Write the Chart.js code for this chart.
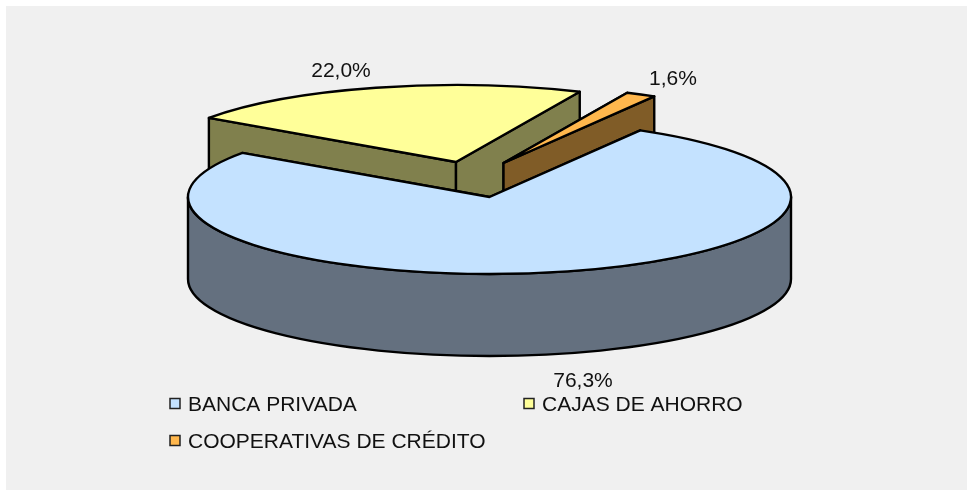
<!DOCTYPE html>
<html><head><meta charset="utf-8">
<style>html,body{margin:0;padding:0;background:#fff}canvas{display:block}</style>
<script src="https://cdn.jsdelivr.net/npm/chart.js@4"></script></head>
<body><canvas id="c" width="970" height="491"></canvas>
<script>
const categories = ["BANCA PRIVADA", "CAJAS DE AHORRO", "COOPERATIVAS DE CRÉDITO"];
const shares = [76.3, 22.0, 1.6];
const topColors = ["#C4E2FF", "#FFFF99", "#FFB74D"];
const sideColors = ["#64707F", "#80804D", "#805C27"];

const RX = 301.5, RY = 77, DEPTH = 82;
const centers = [[489.5, 197], [456, 162], [503.5, 163]];
const paintOrder = [1, 2, 0];
const labelAt = [[583, 381], [341, 71], [673, 79]];
const legendAt = [[175, 404], [529, 404], [175, 441]];
const FONT = '21px "Liberation Sans", Arial, sans-serif';
const INK = "#111";

const pie3d = {
  id: "pie3d",
  beforeDraw(chart) {
    const { ctx, width, height } = chart;
    ctx.save();
    ctx.fillStyle = "#fff"; ctx.fillRect(0, 0, width, height);
    ctx.fillStyle = "#F0F0F0"; ctx.fillRect(6, 6, width - 9, height - 7);
    ctx.restore();
  },
  beforeDatasetsDraw(chart) {
    const { ctx } = chart;
    const arcs = chart.getDatasetMeta(0).data;
    paintOrder.forEach(i => {
      const a = arcs[i];
      const [cx, cy] = centers[i];
      const sx = RX / a.outerRadius, sy = RY / a.outerRadius;
      const pt = t => [cx + RX * Math.cos(t), cy + RY * Math.sin(t)];
      ctx.save();
      ctx.lineWidth = 2.4; ctx.lineJoin = "round"; ctx.strokeStyle = "#000";
      ctx.fillStyle = sideColors[i];
      [a.startAngle, a.endAngle].forEach(t => {
        const p = pt(t);
        ctx.beginPath();
        ctx.moveTo(cx, cy); ctx.lineTo(p[0], p[1]);
        ctx.lineTo(p[0], p[1] + DEPTH); ctx.lineTo(cx, cy + DEPTH);
        ctx.closePath(); ctx.fill(); ctx.stroke();
      });
      const wallFrom = Math.max(a.startAngle, 0), wallTo = Math.min(a.endAngle, Math.PI);
      if (wallTo > wallFrom) {
        ctx.beginPath();
        ctx.ellipse(cx, cy, RX, RY, 0, wallFrom, wallTo, false);
        ctx.ellipse(cx, cy + DEPTH, RX, RY, 0, wallTo, wallFrom, true);
        ctx.closePath(); ctx.fill(); ctx.stroke();
      }
      ctx.save();
      ctx.translate(cx, cy); ctx.scale(sx, sy); ctx.translate(-a.x, -a.y);
      a.draw(ctx, chart.chartArea);
      ctx.restore();
      ctx.beginPath();
      ctx.moveTo(cx, cy);
      ctx.ellipse(cx, cy, RX, RY, 0, a.startAngle, a.endAngle, false);
      ctx.closePath(); ctx.stroke();
      ctx.restore();
    });
    return false;
  },
  afterDraw(chart) {
    const { ctx } = chart;
    ctx.save();
    ctx.font = FONT; ctx.fillStyle = INK; ctx.textBaseline = "middle";
    ctx.textAlign = "center";
    shares.forEach((v, i) => ctx.fillText(v.toFixed(1).replace(".", ",") + "%", labelAt[i][0], labelAt[i][1]));
    ctx.textAlign = "left";
    categories.forEach((name, i) => {
      const [x, y] = legendAt[i];
      ctx.fillStyle = topColors[i];
      ctx.strokeStyle = "#222"; ctx.lineWidth = 1.5;
      ctx.beginPath(); ctx.rect(x - 5, y - 5.5, 10, 10); ctx.fill(); ctx.stroke();
      ctx.fillStyle = INK;
      ctx.fillText(name, x + 13, y + 1.5);
    });
    ctx.restore();
  }
};

new Chart(document.getElementById("c"), {
  type: "pie",
  data: { labels: categories, datasets: [{ data: shares, backgroundColor: topColors, borderWidth: 0 }] },
  options: {
    responsive: false, animation: false, rotation: 30,
    layout: { padding: 0 },
    plugins: { legend: { display: false }, tooltip: { enabled: false }, pie3d: {} }
  },
  plugins: [pie3d]
});
</script></body></html>
